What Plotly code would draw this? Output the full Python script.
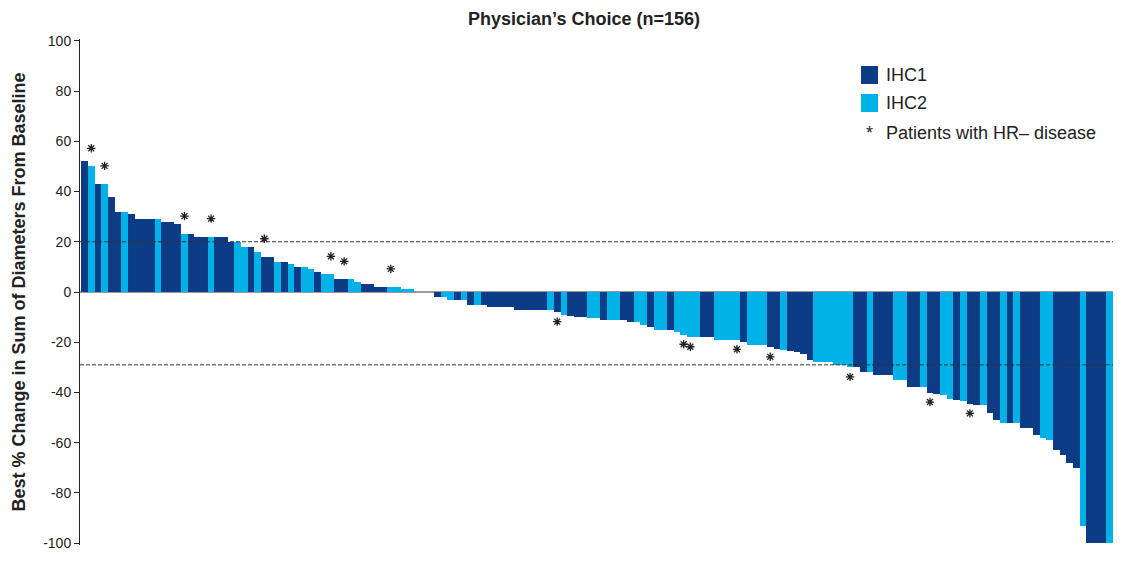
import plotly.graph_objects as go

# Best % change per patient, in display order (waterfall)
values = [52, 50, 43, 43, 38, 32, 32, 31, 29, 29,
          29, 29, 28, 28, 27, 23, 23, 22, 22, 22,
          22, 22, 20, 20, 18, 18, 16, 14, 14, 12,
          12, 11, 10, 10, 9, 8, 7, 7, 5, 5,
          5, 4, 3, 3, 2, 2, 2, 2, 1, 1,
          0, 0, 0, -2, -2, -3, -3, -3, -5, -5,
          -5, -6, -6, -6, -6, -7, -7, -7, -7, -7,
          -7, -8, -9, -9.5, -10, -10, -10.5, -10.5, -11, -11,
          -11, -11, -12, -12, -13, -14, -15, -15, -15, -16,
          -17, -18, -18, -18, -18, -19, -19, -19, -19, -20,
          -21, -21, -21, -22, -22.5, -23, -23.5, -24, -24.5, -27,
          -28, -28, -28, -29, -29, -30, -30, -32, -32, -33,
          -33, -33, -35, -35, -38, -38, -38, -40, -40.5, -41,
          -42.5, -43, -43.5, -44.5, -45, -45, -48, -51, -52, -52,
          -52, -54, -54, -57, -58, -59, -63, -65, -68, -70,
          -93, -100, -100, -100, -100]

# 1 = IHC1, 2 = IHC2
groups = [1, 2, 1, 2, 1, 1, 2, 1, 1, 1,
          1, 2, 1, 1, 1, 2, 1, 1, 1, 2,
          1, 1, 1, 2, 2, 1, 2, 1, 1, 2,
          1, 2, 1, 2, 2, 1, 2, 2, 1, 1,
          2, 2, 1, 1, 1, 1, 2, 2, 2, 2,
          1, 1, 1, 1, 2, 2, 1, 2, 1, 2,
          1, 1, 1, 1, 1, 1, 1, 1, 1, 1,
          2, 1, 2, 1, 1, 1, 2, 2, 1, 2,
          2, 1, 1, 2, 2, 1, 2, 2, 1, 2,
          2, 2, 2, 1, 1, 2, 2, 2, 2, 1,
          2, 2, 2, 1, 1, 2, 1, 1, 1, 1,
          2, 2, 2, 2, 2, 2, 1, 1, 2, 1,
          1, 1, 2, 2, 1, 1, 2, 1, 1, 2,
          2, 1, 2, 1, 1, 2, 1, 1, 2, 1,
          2, 1, 1, 1, 2, 2, 1, 1, 1, 1,
          2, 1, 1, 1, 2]

# patients (1-based position) with HR- disease
hr_negative = [2, 4, 16, 20, 28, 38, 40, 47, 72, 91, 92, 99, 104, 116, 128, 134, 152]

y_ticks = [100, 80, 60, 40, 20, 0, -20, -40, -60, -80, -100]
ref_lines = [20, -29]

DARK = "#0b3c85"
LIGHT = "#00b2e8"
INK = "#222222"
FONT = "Liberation Sans, Arial, sans-serif"

positions = list(range(1, len(values) + 1))

fig = go.Figure()
for g, name, col in [(1, "IHC1", DARK), (2, "IHC2", LIGHT)]:
    xs = [p for p, gg in zip(positions, groups) if gg == g]
    ys = [v for v, gg in zip(values, groups) if gg == g]
    fig.add_trace(go.Bar(x=xs, y=ys, name=name, width=1.0,
                         marker=dict(color=col, line=dict(width=0)),
                         showlegend=False))

star_y = [values[p - 1] + (7.2 if values[p - 1] > 0 else -3.8) for p in hr_negative]
fig.add_trace(go.Scatter(x=hr_negative, y=star_y, mode="markers",
                         name="Patients with HR\u2013 disease",
                         marker=dict(symbol="asterisk-open", size=7, color=INK,
                                     line=dict(color=INK, width=1.3)),
                         cliponaxis=False, showlegend=False))

for yv in ref_lines:
    fig.add_shape(type="line", xref="paper", x0=0, x1=1, yref="y", y0=yv, y1=yv,
                  line=dict(color="#333333", width=1, dash="4px,2px"), layer="above")

# the page body adds an 8px margin on every side; figure sized to fit inside it
OFF = 8
W, H = 1121 - 2 * OFF, 565 - 2 * OFF
ml, mr, mt = 80 - OFF, 0, 39 - OFF
mb = H - (545 - OFF)
pw, ph = W - ml - mr, H - mt - mb

def px(x):
    return (x - OFF - ml) / pw

def py(y):
    return (H - mb - (y - OFF)) / ph

# x range: first bar starts ~1.3px right of the axis, last bar reaches the right edge
n = len(values)
unit = (pw - 1.3) / n
x_range = [0.5 - 1.3 / unit, n + 0.5]

# manual legend
for (y0, y1, col) in [(66, 84, DARK), (94, 112, LIGHT)]:
    fig.add_shape(type="rect", xref="paper", yref="paper",
                  x0=px(861), x1=px(878), y0=py(y1), y1=py(y0),
                  fillcolor=col, line=dict(width=0))
for (txt, yy) in [("IHC1", 75), ("IHC2", 103)]:
    fig.add_annotation(text=txt, xref="paper", yref="paper", x=px(884), y=py(yy),
                       xanchor="left", yanchor="middle", showarrow=False,
                       font=dict(family=FONT, size=18, color=INK))
fig.add_annotation(text="*", xref="paper", yref="paper", x=px(869), y=py(133),
                   xanchor="center", yanchor="middle", showarrow=False,
                   font=dict(family=FONT, size=18, color=INK))
fig.add_annotation(text="Patients with HR\u2013 disease", xref="paper", yref="paper",
                   x=px(884), y=py(133), xanchor="left", yanchor="middle", showarrow=False,
                   font=dict(family=FONT, size=18, color=INK))

fig.update_layout(
    width=W, height=H, autosize=False,
    margin=dict(l=ml, r=mr, t=mt, b=mb, pad=0, autoexpand=False),
    paper_bgcolor="white", plot_bgcolor="white",
    barmode="overlay", bargap=0,
    title=dict(text="<b>Physician\u2019s Choice (n=156)</b>", x=(584 - OFF) / W, xref="container",
               xanchor="center", y=1 - (18.5 - OFF) / H, yref="container", yanchor="middle",
               automargin=False, pad=dict(t=0, b=0, l=0, r=0),
               font=dict(family=FONT, size=18, color=INK)),
    font=dict(family=FONT, color=INK),
    xaxis=dict(range=x_range, visible=False, showgrid=False, zeroline=False,
               automargin=False),
    yaxis=dict(range=[-100.7, 100.7], tickvals=y_ticks, ticktext=[str(t) for t in y_ticks],
               ticks="outside", ticklen=5, tickwidth=1, tickcolor=INK,
               showline=True, linecolor=INK, linewidth=1, automargin=False,
               showgrid=False, zeroline=True, zerolinecolor="#9a9a9a", zerolinewidth=1.5,
               tickfont=dict(family=FONT, size=14, color=INK),
               title=dict(text="<b>Best % Change in Sum of Diameters From Baseline</b>",
                          standoff=12, font=dict(family=FONT, size=18, color=INK))),
)

fig.write_html("out.html")
